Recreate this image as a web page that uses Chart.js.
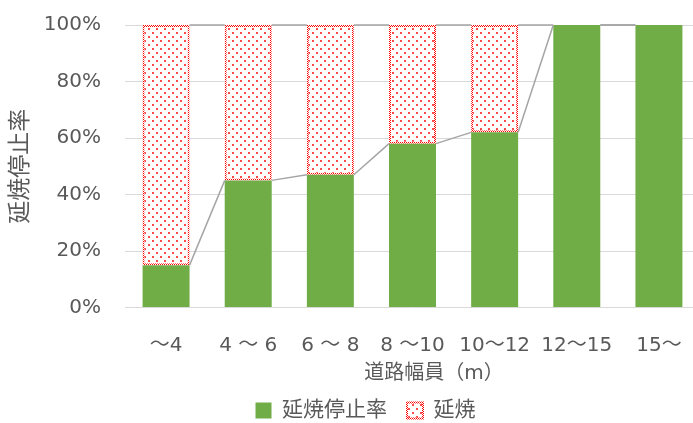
<!DOCTYPE html>
<html>
<head>
<meta charset="utf-8">
<script src="https://cdn.jsdelivr.net/npm/chart.js@4"></script>
<style>
  html, body { margin: 0; padding: 0; background: #fff; overflow: hidden; }
  #wrap { width: 703px; height: 431px; position: relative; }
</style>
</head>
<body>
<div id="wrap"><canvas id="chart"></canvas></div>
<script>
const categories = ["～4", "4 ～ 6", "6 ～ 8", "8 ～10", "10～12", "12～15", "15～"];
const stopRate = [15, 45, 47, 58, 62, 100, 100];
const spread = [85, 55, 53, 42, 38, 0, 0];
const yTicks = [0, 20, 40, 60, 80, 100];
const xTitle = "道路幅員（m）";

const textColor = "#595959";
const fontFamily = "'DejaVu Sans', 'Noto Sans CJK JP', sans-serif";

function dotPattern() {
  const c = document.createElement("canvas");
  c.width = 8; c.height = 8;
  const g = c.getContext("2d");
  g.fillStyle = "#fff";
  g.fillRect(0, 0, 8, 8);
  g.fillStyle = "#ff4a4a";
  g.fillRect(0, 0, 2, 2);
  g.fillRect(4, 4, 2, 2);
  return g.createPattern(c, "repeat");
}

function dottedBorder() {
  const c = document.createElement("canvas");
  c.width = 2; c.height = 2;
  const g = c.getContext("2d");
  g.fillStyle = "#fff";
  g.fillRect(0, 0, 2, 2);
  g.fillStyle = "#ff0000";
  g.fillRect(0, 0, 1, 1);
  g.fillRect(1, 1, 1, 1);
  return g.createPattern(c, "repeat");
}

// excel style series lines between the stacked bars
const seriesLines = {
  id: "seriesLines",
  afterDatasetsDraw(chart) {
    const ctx = chart.ctx;
    ctx.save();
    ctx.strokeStyle = "#a5a5a5";
    ctx.lineWidth = 1.5;
    chart.data.datasets.forEach((ds, di) => {
      const bars = chart.getDatasetMeta(di).data;
      for (let i = 0; i < bars.length - 1; i++) {
        const a = bars[i].getProps(["x", "y", "width"], true);
        const b = bars[i + 1].getProps(["x", "y", "width"], true);
        ctx.beginPath();
        ctx.moveTo(a.x + a.width / 2, a.y);
        ctx.lineTo(b.x - b.width / 2, b.y);
        ctx.stroke();
      }
    });
    ctx.restore();
  }
};

// the axis title and legend sit a bit right of centre in the original
const excelLayout = {
  id: "excelLayout",
  afterLayout(chart) {
    chart.legend.left += 31;
  },
  afterDraw(chart) {
    const ctx = chart.ctx;
    ctx.save();
    ctx.fillStyle = textColor;
    ctx.font = "20px " + fontFamily;
    ctx.textAlign = "center";
    ctx.textBaseline = "middle";
    ctx.fillText(xTitle, 434, 374);
    ctx.restore();
  }
};

const ctx = document.getElementById("chart").getContext("2d");

new Chart(ctx, {
  type: "bar",
  data: {
    labels: categories,
    datasets: [
      {
        label: "延焼停止率",
        data: stopRate,
        backgroundColor: "#70ad47",
        borderWidth: 0,
        categoryPercentage: 1,
        barPercentage: 0.572
      },
      {
        label: "延焼",
        data: spread,
        backgroundColor: dotPattern(),
        borderColor: dottedBorder(),
        borderWidth: 2,
        borderSkipped: false,
        categoryPercentage: 1,
        barPercentage: 0.572
      }
    ]
  },
  options: {
    responsive: true,
    maintainAspectRatio: false,
    animation: false,
    layout: { padding: { top: 25, right: 3, left: 0, bottom: 0 } },
    plugins: {
      tooltip: { enabled: false },
      legend: {
        position: "bottom",
        labels: {
          color: textColor,
          font: { family: fontFamily, size: 21 },
          boxWidth: 16,
          boxHeight: 16,
          padding: 20
        }
      }
    },
    scales: {
      x: {
        stacked: true,
        grid: { display: false },
        border: { display: false },
        ticks: {
          color: textColor,
          font: { family: fontFamily, size: 20 },
          padding: 18,
          maxRotation: 0
        },
        afterFit(scale) { scale.height = 72.5; }
      },
      y: {
        stacked: true,
        min: 0,
        max: 100,
        afterBuildTicks(scale) { scale.ticks = yTicks.map(v => ({ value: v })); },
        grid: { color: "#d9d9d9", drawTicks: false },
        border: { display: false },
        ticks: {
          color: textColor,
          font: { family: fontFamily, size: 20 },
          padding: 24,
          callback: v => v + "%"
        },
        title: {
          display: true,
          text: "延焼停止率",
          color: textColor,
          font: { family: fontFamily, size: 23 },
          padding: { top: 7, bottom: 0 }
        },
        afterFit(scale) {
          scale.width = 125;
          scale.paddingTop = 0;
          scale.paddingBottom = 0;
        }
      }
    }
  },
  plugins: [seriesLines, excelLayout]
});
</script>
</body>
</html>
